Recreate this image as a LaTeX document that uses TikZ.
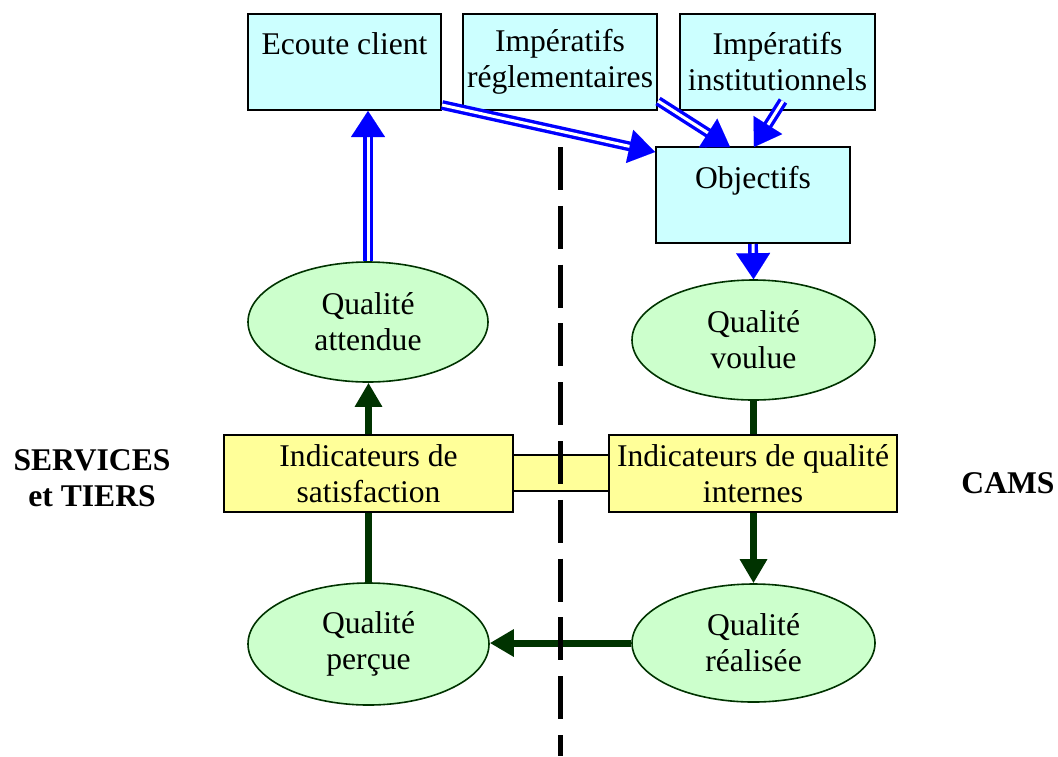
\documentclass[tikz,border=0pt]{standalone}
\usepackage{fontspec}
\setmainfont{Liberation Serif}
\usetikzlibrary{shapes.geometric,arrows.meta,calc,backgrounds}
\definecolor{cyanfill}{HTML}{CCFFFF}
\definecolor{greenfill}{HTML}{CCFFCC}
\definecolor{yellowfill}{HTML}{FFFF99}
\definecolor{dkgreen}{HTML}{003300}
\tikzset{
  txt/.style={font=\fontsize{15.8}{18}\selectfont, align=center, inner sep=0pt},
  cbox/.style={txt, draw=black, line width=1pt, fill=cyanfill, rectangle},
  qell/.style={txt, draw=dkgreen, line width=0.8pt, fill=greenfill, ellipse},
  ybox/.style={txt, draw=black, line width=1pt, fill=yellowfill, rectangle},
  bdbl/.style={draw=blue, double=white, line width=1.7pt, double distance=1.5pt},
  garrow/.style={draw=dkgreen, line width=3.5pt, -{Triangle[length=12pt,width=13pt]}},
  sidelbl/.style={font=\fontsize{15.8}{18}\selectfont\bfseries, align=center, inner sep=0pt},
  divider/.style={draw=black, line width=2.5pt, dash pattern=on 21.5pt off 7.9pt}
}
\newcommand{\bluearrow}[2]{%
  \draw[bdbl, shorten >=11pt] #1 -- #2;
  \draw[blue, line width=0.01pt, -{Triangle[length=13pt,width=17pt]}] ($#2!13pt!#1$) -- #2;
}
\begin{document}
\begin{tikzpicture}[x=0.5pt,y=-0.5pt]
\useasboundingbox (0,0) rectangle (1058,756);

% top boxes
\node[cbox, minimum width=96.5pt, minimum height=48pt] (ecoute) at (344.5,62) {Ecoute client\\\mbox{}};
\node[cbox, minimum width=97pt, minimum height=48pt] (regl) at (560,62) {Impératifs\\réglementaires};
\node[cbox, minimum width=97.5pt, minimum height=48pt] (inst) at (777.5,62) {Impératifs\\institutionnels};
\node[cbox, minimum width=97pt, minimum height=48pt] (obj) at (753,195) {Objectifs\\\mbox{}};

% ellipses
\node[qell, minimum width=120pt, minimum height=60pt] (attendue) at (368,322) {Qualité\\attendue};
\node[qell, minimum width=121.5pt, minimum height=60pt] (voulue) at (753.5,340) {Qualité\\voulue};
\node[qell, minimum width=120.5pt, minimum height=61pt] (percue) at (368.5,644) {Qualité\\perçue};
\node[qell, minimum width=121.5pt, minimum height=59pt] (realisee) at (753.5,643) {Qualité\\réalisée};

% indicators
\node[ybox, minimum width=144.5pt, minimum height=38.5pt] (isat) at (368.5,473.5) {Indicateurs de\\satisfaction};
\node[ybox, minimum width=144pt, minimum height=38.5pt] (iint) at (753,473.5) {Indicateurs de qualité\\internes};
\node[ybox, minimum width=48pt, minimum height=18pt] (link) at (561,473) {};

% side labels
\node[sidelbl] (services) at (92,478) {SERVICES\\et TIERS};
\node[sidelbl] (cams) at (1008,483) {CAMS};

% green arrows behind
\begin{scope}[on background layer]
\draw[garrow] (voulue.south) -- (voulue.south |- realisee.north);
\draw[garrow] (percue.north) -- (percue.north |- attendue.south);
\draw[garrow] (realisee.west) -- (realisee.west -| percue.east);
\end{scope}

% blue arrows
\bluearrow{(attendue.north)}{(attendue.north |- ecoute.south)}
\bluearrow{($(ecoute.south east)+(0,-6)$)}{($(obj.north west)+(0,6)$)}
\bluearrow{($(regl.south east)+(0,-10)$)}{($(obj.north)+(-23,1)$)}
\bluearrow{($(inst.south)+(5.5,-10)$)}{($(obj.north)+(1,1)$)}
\bluearrow{(obj.south)}{(voulue.north)}

% divider
\coordinate (dtop) at (560.5,147);
\coordinate (dbot) at (560.5,756);
\draw[divider] (dtop) -- (dbot);
\end{tikzpicture}
\end{document}
